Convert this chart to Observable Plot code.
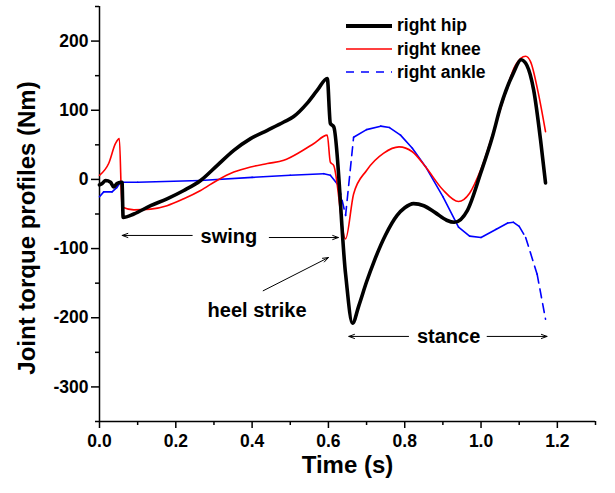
<!DOCTYPE html>
<html>
<head>
<meta charset="utf-8">
<script src="https://cdn.jsdelivr.net/npm/d3@7"></script>
<script src="https://cdn.jsdelivr.net/npm/@observablehq/plot@0.6"></script>
<style>
  html, body { margin: 0; padding: 0; background: #fff; }
  #wrap { position: relative; width: 615px; height: 493px; font-family: "Liberation Sans", Arial, sans-serif; }
  #legend { position: absolute; left: 346px; top: 14px; font-weight: bold; font-size: 17.5px; color: #000; }
  .row { display: flex; align-items: center; height: 23.4px; }
  .row svg { width: 46px; height: 10px; margin-right: 5px; }
</style>
</head>
<body>
<div id="wrap"><div id="legend"></div></div>
<script>
// ---- data ----
const seriesNames = ["right hip", "right knee", "right ankle"];
const seriesColors = ["#000000", "#ff0000", "#0000ff"];

const hipT = [0.000, 0.007, 0.016, 0.029, 0.037, 0.046, 0.055, 0.059, 0.062, 0.090, 0.134, 0.177, 0.221, 0.265, 0.308, 0.352, 0.396, 0.440, 0.483, 0.509, 0.544, 0.571, 0.597, 0.605, 0.614, 0.645, 0.663, 0.680, 0.700, 0.720, 0.750, 0.780, 0.800, 0.823, 0.850, 0.880, 0.910, 0.930, 0.964, 0.999, 1.030, 1.051, 1.085, 1.105, 1.120, 1.138, 1.156, 1.169];
const hipV = [-8, -6, -1.5, -4, -11, -6, -4, -4, -55, -50, -38, -28, -16, -1.5, 20, 42, 59, 71, 83, 91, 110, 129, 146, 81, 76, -137, -208, -182, -148, -118, -80, -52, -41, -35, -38, -48, -59, -62, -45, 9, 62, 105, 154, 173, 165, 129, 57, -5];

const kneeT = [0.000, 0.024, 0.042, 0.052, 0.059, 0.090, 0.134, 0.177, 0.221, 0.265, 0.308, 0.352, 0.396, 0.440, 0.483, 0.527, 0.562, 0.597, 0.605, 0.614, 0.645, 0.666, 0.700, 0.745, 0.785, 0.820, 0.855, 0.900, 0.941, 0.970, 1.000, 1.050, 1.090, 1.117, 1.130, 1.150, 1.169];
const kneeV = [6, 23, 52, 59, -40, -44, -43, -38, -28, -16, -1.5, 10.6, 18, 23, 27.6, 40, 52, 64, 25, 20, -86, -21, 13, 38, 47, 40, 18, -15, -32, -20, 15, 100, 165, 178, 170, 125, 69];

const ankleT = [0.000, 0.011, 0.033, 0.045, 0.055, 0.100, 0.265, 0.400, 0.500, 0.588, 0.605, 0.627, 0.645, 0.666, 0.700, 0.737, 0.760, 0.789, 0.820, 0.855, 0.900, 0.941, 0.970, 1.000, 1.040, 1.070, 1.085, 1.100, 1.117, 1.147, 1.169];
const ankleV = [-25, -18, -18, -12, -4, -4, -1.5, 3, 6, 8.3, 6, -9, -52, 61, 72, 77, 75, 64, 45, 18, -25, -69, -82, -84, -72, -63, -62, -68, -84, -137, -202];

const xTicks = [0.0, 0.2, 0.4, 0.6, 0.8, 1.0, 1.2];
const xMinor = [0.1, 0.3, 0.5, 0.7, 0.9, 1.1, 1.3];
const yTicks = [-300, -200, -100, 0, 100, 200];
const yMinor = [-350, -250, -150, -50, 50, 150, 250];

const annLabels = ["swing", "heel strike", "stance"];
const annX = [0.339, 0.413, 0.915];
const annY = [-82, -190, -227];

const arrowX1 = [0.243, 0.445, 0.429, 0.810, 1.016];
const arrowY1 = [-81, -84, -161, -227, -227];
const arrowX2 = [0.0595, 0.626, 0.600, 0.6535, 1.173];
const arrowY2 = [-81, -84, -113, -227, -227];

const xLabel = "Time (s)";
const yLabel = "Joint torque profiles (Nm)";

// ---- build tables ----
const hip = hipT.map((t, i) => ({t, v: hipV[i]}));
const knee = kneeT.map((t, i) => ({t, v: kneeV[i]}));
const ankle = ankleT.map((t, i) => ({t, v: ankleV[i]}));

// ankle drawn dashed where the source plot shows dashes
const dashedRanges = [[0.627, 0.666], [1.085, 1.2]];
const isDashed = (a, b) => dashedRanges.some(([lo, hi]) => a.t >= lo && b.t <= hi);
const ankleSolid = [], ankleDashed = [];
for (let i = 0; i < ankle.length - 1; i++) {
  const a = ankle[i], b = ankle[i + 1];
  const target = isDashed(a, b) ? ankleDashed : ankleSolid;
  target.push({...a, seg: i}, {...b, seg: i});
}

const anns = annLabels.map((label, i) => ({label, x: annX[i], y: annY[i]}));
const arrows = arrowX1.map((x1, i) => ({x1, y1: arrowY1[i], x2: arrowX2[i], y2: arrowY2[i]}));

const font = "Liberation Sans, Arial, sans-serif";

const chart = Plot.plot({
  width: 615,
  height: 493,
  marginLeft: 99,
  marginRight: 20,
  marginTop: 6,
  marginBottom: 72,
  style: {fontFamily: font, fontWeight: "bold", color: "#000", background: "#fff", overflow: "visible"},
  x: {domain: [0, 1.3], axis: null},
  y: {domain: [-350, 250], axis: null},
  marks: [
    Plot.axisX(xTicks, {tickSize: 7, tickPadding: 6, strokeWidth: 1.5, fontSize: 17.5, fontWeight: "bold", tickFormat: d3.format(".1f"), label: null}),
    Plot.axisX(xMinor, {tickSize: 4, strokeWidth: 1.5, tickFormat: () => "", label: null}),
    Plot.axisY(yTicks, {tickSize: 8, tickPadding: 3, strokeWidth: 1.5, fontSize: 17.5, fontWeight: "bold", tickFormat: d => String(d), label: null}),
    Plot.axisY(yMinor, {tickSize: 4, strokeWidth: 1.5, tickFormat: () => "", label: null}),
    Plot.ruleX([0], {strokeWidth: 1.5}),
    Plot.ruleY([-350], {strokeWidth: 1.5}),
    Plot.line(ankleSolid, {x: "t", y: "v", z: "seg", stroke: seriesColors[2], strokeWidth: 1.6, curve: "monotone-x"}),
    Plot.line(ankleDashed, {x: "t", y: "v", z: "seg", stroke: seriesColors[2], strokeWidth: 1.6, strokeDasharray: "9,6", curve: "monotone-x"}),
    Plot.line(knee, {x: "t", y: "v", stroke: seriesColors[1], strokeWidth: 1.6, curve: "monotone-x"}),
    Plot.line(hip, {x: "t", y: "v", stroke: seriesColors[0], strokeWidth: 3.6, curve: "monotone-x"}),
    Plot.arrow(arrows, {x1: "x1", y1: "y1", x2: "x2", y2: "y2", stroke: "#000", strokeWidth: 1, headLength: 9, headAngle: 40}),
    Plot.text(anns, {x: "x", y: "y", text: "label", fontSize: 20, fontWeight: "bold", fill: "#000", textAnchor: "middle", lineAnchor: "middle"}),
    Plot.text([xLabel], {frameAnchor: "bottom", dy: 44, fontSize: 24, fontWeight: "bold", fill: "#000", textAnchor: "middle", lineAnchor: "middle"}),
    Plot.text([yLabel], {frameAnchor: "left", dx: -72, dy: 14, rotate: -90, fontSize: 24, fontWeight: "bold", fill: "#000", textAnchor: "middle", lineAnchor: "middle"})
  ]
});

document.getElementById("wrap").prepend(chart);

// ---- legend overlay ----
const legend = document.getElementById("legend");
const widths = [4, 1.6, 1.6];
const dashes = [null, null, "8,7"];
seriesNames.forEach((name, i) => {
  const row = document.createElement("div");
  row.className = "row";
  const dash = dashes[i] ? ` stroke-dasharray="${dashes[i]}"` : "";
  row.innerHTML = `<svg viewBox="0 0 46 10"><line x1="0" y1="5" x2="46" y2="5" stroke="${seriesColors[i]}" stroke-width="${widths[i]}"${dash}/></svg><span>${name}</span>`;
  legend.appendChild(row);
});
</script>
</body>
</html>
